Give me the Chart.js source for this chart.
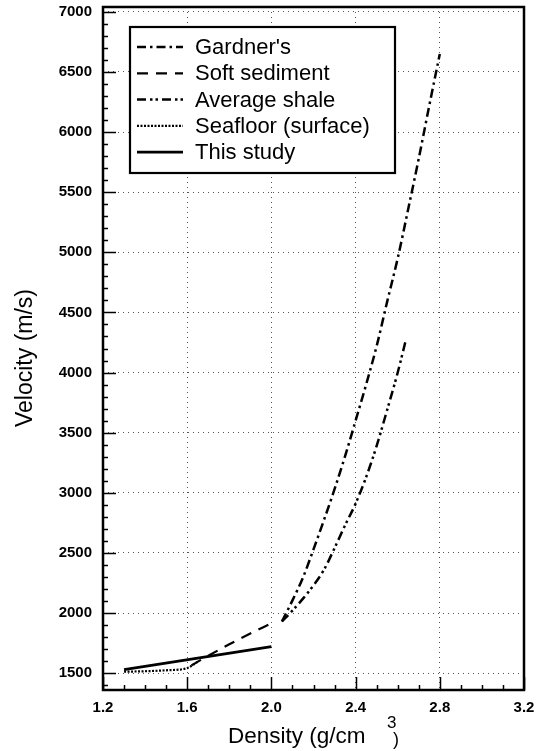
<!DOCTYPE html>
<html>
<head>
<meta charset="utf-8">
<script src="https://cdn.jsdelivr.net/npm/chart.js@4.4.1/dist/chart.umd.min.js"></script>
<style>
  html, body { margin: 0; padding: 0; background: #fff; }
  #wrap { width: 536px; height: 751px; }
</style>
</head>
<body>
<div id="wrap"><canvas id="chart" width="536" height="751"></canvas></div>
<script>
// values (density g/cm3, velocity m/s)
const gardnerX = [2.05, 2.1, 2.15, 2.2, 2.25, 2.3, 2.35, 2.4, 2.45, 2.5, 2.55, 2.6, 2.65, 2.7, 2.75, 2.8];
const gardnerV = [1930, 2105, 2295, 2530, 2775, 3030, 3305, 3600, 3900, 4220, 4590, 4950, 5360, 5780, 6220, 6650];

const softX = [1.62, 1.7, 1.8, 1.9, 2.0];
const softV = [1565, 1645, 1740, 1830, 1915];

const shaleX = [2.05, 2.1, 2.15, 2.2, 2.25, 2.3, 2.35, 2.4, 2.45, 2.5, 2.55, 2.6, 2.64];
const shaleV = [1930, 2020, 2120, 2230, 2360, 2540, 2730, 2910, 3130, 3390, 3690, 4000, 4280];

const seaX = [1.3, 1.4, 1.5, 1.6, 1.65];
const seaV = [1512, 1516, 1524, 1542, 1595];

const studyX = [1.3, 2.0];
const studyV = [1530, 1720];

const legendNames = ["Gardner's", 'Soft sediment', 'Average shale', 'Seafloor (surface)', 'This study'];
const xTicks = [1.2, 1.6, 2.0, 2.4, 2.8, 3.2];
const yTicks = [1500, 2000, 2500, 3000, 3500, 4000, 4500, 5000, 5500, 6000, 6500, 7000];

function pts(xs, vs) {
  return xs.map((x, i) => ({ x: x, y: vs[i] }));
}

const lineStyles = [
  { dash: [9, 4, 2.5, 4], width: 2.5 },
  { dash: [11, 8], width: 2.2 },
  { dash: [9, 4, 2.5, 3, 2.5, 4], width: 2.5 },
  { dash: [2, 1.5], width: 2.2 },
  { dash: [], width: 2.8 }
];

const series = [
  pts(gardnerX, gardnerV),
  pts(softX, softV),
  pts(shaleX, shaleV),
  pts(seaX, seaV),
  pts(studyX, studyV)
];

const datasets = series.map((d, i) => ({
  label: legendNames[i],
  data: d,
  showLine: true,
  borderColor: '#000',
  borderWidth: lineStyles[i].width,
  borderDash: lineStyles[i].dash,
  pointRadius: 0,
  fill: false,
  cubicInterpolationMode: 'monotone'
}));

// frame, inward ticks, legend box, axis titles
const decor = {
  id: 'decor',
  afterDraw(chart) {
    const ctx = chart.ctx;
    const a = chart.chartArea;
    const xs = chart.scales.x, ys = chart.scales.y;
    ctx.save();
    ctx.strokeStyle = '#000';
    ctx.setLineDash([]);

    // minor/major ticks pointing inward
    ctx.lineWidth = 1.5;
    for (let v = 1400; v <= 7000; v += 100) {
      const py = Math.round(ys.getPixelForValue(v)) + 0.5;
      const len = v % 500 === 0 ? 13 : 5;
      ctx.beginPath(); ctx.moveTo(a.left, py); ctx.lineTo(a.left + len, py); ctx.stroke();
    }
    for (let k = 12; k <= 32; k++) {
      const px = Math.round(xs.getPixelForValue(k / 10)) + 0.5;
      const len = (k - 12) % 4 === 0 ? 13 : 5;
      ctx.beginPath(); ctx.moveTo(px, a.bottom); ctx.lineTo(px, a.bottom - len); ctx.stroke();
    }

    // frame
    ctx.lineWidth = 2.5;
    ctx.strokeRect(a.left, a.top, a.right - a.left, a.bottom - a.top);

    // legend box
    const bx = 130, by = 27, bw = 265, bh = 146;
    ctx.fillStyle = '#fff';
    ctx.fillRect(bx, by, bw, bh);
    ctx.lineWidth = 2.2;
    ctx.strokeRect(bx, by, bw, bh);
    ctx.font = '22px "Liberation Sans", Arial, sans-serif';
    ctx.textBaseline = 'middle';
    ctx.textAlign = 'left';
    ctx.fillStyle = '#000';
    legendNames.forEach((name, i) => {
      const ly = 47 + i * 26.3;
      ctx.lineWidth = lineStyles[i].width;
      ctx.setLineDash(lineStyles[i].dash);
      ctx.beginPath(); ctx.moveTo(137, ly); ctx.lineTo(183, ly); ctx.stroke();
      ctx.setLineDash([]);
      ctx.fillText(name, 195, ly + 1);
    });

    // y title
    ctx.font = '23px "Liberation Sans", Arial, sans-serif';
    ctx.save();
    ctx.translate(26, 358);
    ctx.rotate(-Math.PI / 2);
    ctx.textAlign = 'center';
    ctx.fillText('Velocity (m/s)', 0, 0);
    ctx.restore();

    // x title with raised exponent
    ctx.textAlign = 'left';
    ctx.font = '22.5px "Liberation Sans", Arial, sans-serif';
    ctx.fillText('Density (g/cm', 228, 737);
    ctx.font = '17px "Liberation Sans", Arial, sans-serif';
    ctx.fillText('3', 387, 723);
    ctx.font = '18px "Liberation Sans", Arial, sans-serif';
    ctx.fillText(')', 393, 740);
    ctx.restore();
  }
};

new Chart(document.getElementById('chart'), {
  type: 'scatter',
  data: { datasets: datasets },
  options: {
    responsive: false,
    animation: false,
    devicePixelRatio: 1,
    layout: { padding: { left: 0, top: 7, right: 12, bottom: 0 } },
    plugins: { legend: { display: false }, tooltip: { enabled: false } },
    scales: {
      x: {
        type: 'linear',
        min: 1.2,
        max: 3.2,
        afterBuildTicks: s => { s.ticks = xTicks.map(v => ({ value: v })); },
        afterFit: s => { s.height = 61; s.paddingLeft = 0; s.paddingRight = 0; },
        grid: { color: '#555', lineWidth: 1, drawTicks: false },
        border: { display: false, dash: [1, 4] },
        ticks: {
          padding: 9,
          color: '#000',
          font: { family: '"Liberation Sans", Arial, sans-serif', size: 15, weight: 'bold' },
          callback: v => Number(v).toFixed(1)
        }
      },
      y: {
        type: 'linear',
        min: 1360,
        max: 7040,
        afterBuildTicks: s => { s.ticks = yTicks.map(v => ({ value: v })); },
        afterFit: s => { s.width = 103; s.paddingTop = 0; s.paddingBottom = 0; },
        grid: { color: '#555', lineWidth: 1, drawTicks: false },
        border: { display: false, dash: [1, 4] },
        ticks: {
          padding: 11,
          color: '#000',
          font: { family: '"Liberation Sans", Arial, sans-serif', size: 15, weight: 'bold' },
          callback: v => String(v)
        }
      }
    }
  },
  plugins: [decor]
});
</script>
</body>
</html>
